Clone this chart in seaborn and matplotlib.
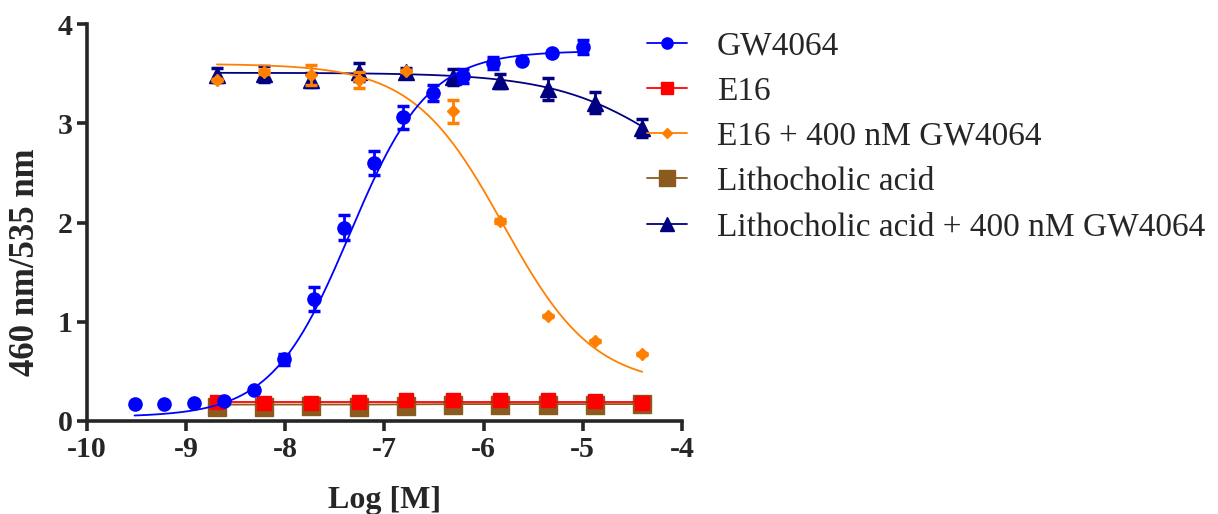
import numpy as np
import pandas as pd
import matplotlib
matplotlib.use("Agg")
import matplotlib.pyplot as plt
import seaborn as sns
from matplotlib.lines import Line2D

# GW4064 alone: 2-fold dilution series
gw_logc = [-9.52, -9.22, -8.92, -8.62, -8.32, -8.01, -7.71, -7.41,
           -7.11, -6.81, -6.51, -6.21, -5.91, -5.61, -5.31, -5.00]
gw_mean = [0.17, 0.17, 0.18, 0.20, 0.31, 0.62, 1.23, 1.95,
           2.60, 3.06, 3.31, 3.48, 3.61, 3.63, 3.71, 3.77]
gw_sem = [0.01, 0.01, 0.01, 0.02, 0.02, 0.06, 0.12, 0.13,
          0.12, 0.12, 0.08, 0.07, 0.06, 0.02, 0.02, 0.07]

# compound series: 3-fold dilution from 40 uM
cmp_logc = [-8.69, -8.21, -7.74, -7.26, -6.78, -6.31, -5.83, -5.35, -4.88, -4.40]
e16_mean = [0.19, 0.18, 0.18, 0.19, 0.21, 0.21, 0.21, 0.21, 0.20, 0.18]
e16_sem = [0.01] * 10
e16gw_mean = [3.44, 3.52, 3.49, 3.44, 3.53, 3.12, 2.02, 1.06, 0.81, 0.68]
e16gw_sem = [0.01, 0.02, 0.10, 0.08, 0.01, 0.12, 0.02, 0.01, 0.01, 0.01]
lca_mean = [0.14, 0.14, 0.15, 0.14, 0.15, 0.16, 0.16, 0.16, 0.16, 0.17]
lca_sem = [0.01] * 10
lcagw_mean = [3.49, 3.50, 3.44, 3.52, 3.52, 3.47, 3.43, 3.35, 3.21, 2.95]
lcagw_sem = [0.07, 0.08, 0.07, 0.09, 0.04, 0.08, 0.07, 0.11, 0.11, 0.09]

# fitted 4PL parameters (bottom, top, logEC50, hill)
fits = {
    "GW4064": (0.04, 3.73, -7.35, 1.1),
    "E16": (0.195, 0.195, -6.0, 1.0),
    "E16 + 400 nM GW4064": (3.60, 0.35, -5.80, 0.95),
    "Lithocholic acid": (0.165, 0.170, -6.9, 3.0),
    "Lithocholic acid + 400 nM GW4064": (3.51, 2.0, -4.06, 0.74),
}

series = [
    # label, x, y, err, color, marker, size, z
    ("Lithocholic acid", cmp_logc, lca_mean, lca_sem, "#8B5A1E", "s", 13, 3),
    ("E16", cmp_logc, e16_mean, e16_sem, "#FF0000", "s", 9.5, 4),
    ("Lithocholic acid + 400 nM GW4064", cmp_logc, lcagw_mean, lcagw_sem, "#000080", "^", 12, 5),
    ("E16 + 400 nM GW4064", cmp_logc, e16gw_mean, e16gw_sem, "#FF8000", "D", 6.5, 6),
    ("GW4064", gw_logc, gw_mean, gw_sem, "#0000FF", "o", 9.5, 7),
]
legend_order = ["GW4064", "E16", "E16 + 400 nM GW4064",
                "Lithocholic acid", "Lithocholic acid + 400 nM GW4064"]


def four_pl(x, bottom, top, logec50, hill):
    return bottom + (top - bottom) / (1 + 10 ** ((logec50 - x) * hill))


sns.set_style("ticks")
plt.rcParams["font.family"] = ["Liberation Serif", "DejaVu Serif"]

fig = plt.figure(figsize=(12.18, 5.14), dpi=100)
ax = fig.add_axes([0.0714, 0.181, 0.4885, 0.772])

handles = {}
for label, xs, ys, es, color, marker, ms, z in series:
    b, t, c, h = fits[label]
    xx = np.linspace(min(xs), max(xs), 200)
    curve = pd.DataFrame({"x": xx, "y": four_pl(xx, b, t, c, h)})
    sns.lineplot(data=curve, x="x", y="y", ax=ax, color=color, lw=1.3, zorder=z)
    ax.errorbar(xs, ys, yerr=es, fmt=marker, color=color, ms=ms, mec=color,
                elinewidth=2, capsize=4, capthick=2.5, zorder=z + 0.5, clip_on=False)
    handles[label] = Line2D([], [], color=color, lw=1.3, marker=marker, ms=ms * 0.85)

ax.set_xlim(-10, -4)
ax.set_ylim(0, 4)
ax.set_xticks(range(-10, -3))
ax.set_yticks(range(0, 5))
ax.set_xticklabels([str(v) for v in range(-10, -3)])
sns.despine(ax=ax)
for s in ("left", "bottom"):
    ax.spines[s].set_linewidth(2.6)
ax.tick_params(width=2.6, length=7.5, labelsize=21.5, pad=3)
for lab in ax.get_xticklabels() + ax.get_yticklabels():
    lab.set_fontweight("bold")
ax.set_xlabel("Log [M]", fontsize=23, fontweight="bold", labelpad=17)
ax.set_ylabel("460 nm/535 nm", fontsize=25, fontweight="bold")
ax.yaxis.set_label_coords(-0.076, 0.40)

fig.legend([handles[k] for k in legend_order], legend_order,
           loc="upper left", bbox_to_anchor=(0.5202, 0.9656), frameon=False,
           fontsize=24, handlelength=1.2, handletextpad=0.9, labelspacing=0.44,
           borderaxespad=0)

fig.savefig("out.png", dpi=100)
